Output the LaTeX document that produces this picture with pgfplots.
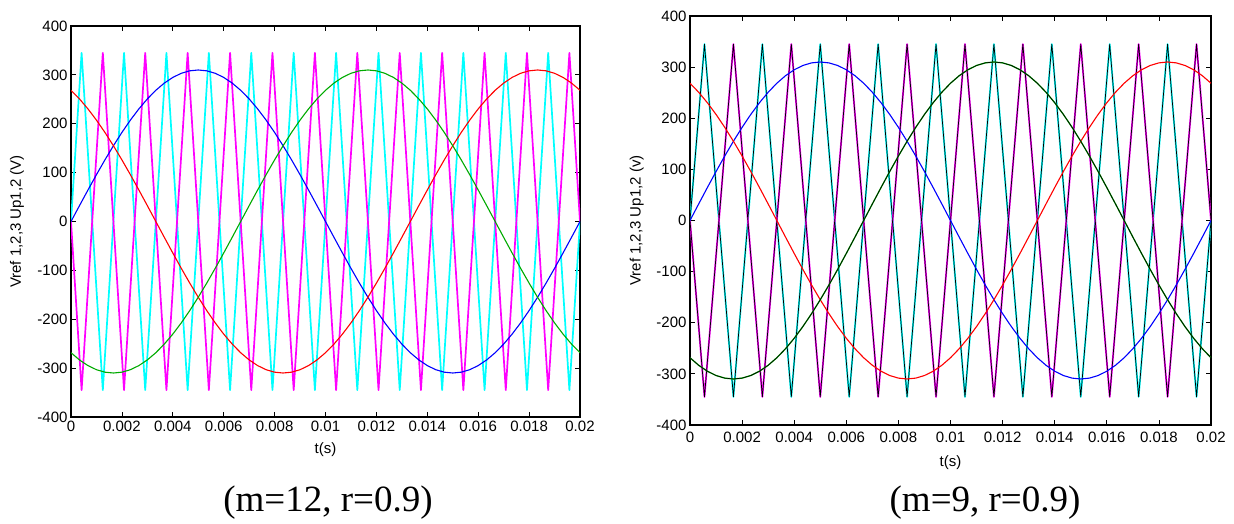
\documentclass[border=0pt]{standalone}
\usepackage{fontspec}
\setmainfont{Liberation Sans}
\newfontfamily\capfont{Liberation Serif}
\usepackage{pgfplots}
\usepackage{pgfplotstable}
\pgfplotsset{compat=1.18}
\definecolor{mcyan}{RGB}{0,255,255}
\definecolor{mmag}{RGB}{255,0,255}
\definecolor{mblue}{RGB}{0,0,255}
\definecolor{mred}{RGB}{255,0,0}
\definecolor{mgreen}{RGB}{0,170,0}

\pgfplotstableread{
t blue red green
0.0000000 0 268.47 -268.47
0.0003333 32.40 250.80 -283.20
0.0006667 64.45 230.37 -294.83
0.0010000 95.80 207.43 -303.23
0.0013333 126.09 182.21 -308.30
0.0016667 155.00 155.00 -310.00
0.0020000 182.21 126.09 -308.30
0.0023333 207.43 95.80 -303.23
0.0026667 230.37 64.45 -294.83
0.0030000 250.80 32.40 -283.20
0.0033333 268.47 0 -268.47
0.0036667 283.20 -32.40 -250.80
0.0040000 294.83 -64.45 -230.37
0.0043333 303.23 -95.80 -207.43
0.0046667 308.30 -126.09 -182.21
0.0050000 310.00 -155.00 -155.00
0.0053333 308.30 -182.21 -126.09
0.0056667 303.23 -207.43 -95.80
0.0060000 294.83 -230.37 -64.45
0.0063333 283.20 -250.80 -32.40
0.0066667 268.47 -268.47 0
0.0070000 250.80 -283.20 32.40
0.0073333 230.37 -294.83 64.45
0.0076667 207.43 -303.23 95.80
0.0080000 182.21 -308.30 126.09
0.0083333 155.00 -310.00 155.00
0.0086667 126.09 -308.30 182.21
0.0090000 95.80 -303.23 207.43
0.0093333 64.45 -294.83 230.37
0.0096667 32.40 -283.20 250.80
0.0100000 0 -268.47 268.47
0.0103333 -32.40 -250.80 283.20
0.0106667 -64.45 -230.37 294.83
0.0110000 -95.80 -207.43 303.23
0.0113333 -126.09 -182.21 308.30
0.0116667 -155.00 -155.00 310.00
0.0120000 -182.21 -126.09 308.30
0.0123333 -207.43 -95.80 303.23
0.0126667 -230.37 -64.45 294.83
0.0130000 -250.80 -32.40 283.20
0.0133333 -268.47 0 268.47
0.0136667 -283.20 32.40 250.80
0.0140000 -294.83 64.45 230.37
0.0143333 -303.23 95.80 207.43
0.0146667 -308.30 126.09 182.21
0.0150000 -310.00 155.00 155.00
0.0153333 -308.30 182.21 126.09
0.0156667 -303.23 207.43 95.80
0.0160000 -294.83 230.37 64.45
0.0163333 -283.20 250.80 32.40
0.0166667 -268.47 268.47 0
0.0170000 -250.80 283.20 -32.40
0.0173333 -230.37 294.83 -64.45
0.0176667 -207.43 303.23 -95.80
0.0180000 -182.21 308.30 -126.09
0.0183333 -155.00 310.00 -155.00
0.0186667 -126.09 308.30 -182.21
0.0190000 -95.80 303.23 -207.43
0.0193333 -64.45 294.83 -230.37
0.0196667 -32.40 283.20 -250.80
0.0200000 0 268.47 -268.47
}\sines

\pgfplotstableread{
t c m
0 0 0
0.00041667 345 -345
0.00125000 -345 345
0.00208333 345 -345
0.00291667 -345 345
0.00375000 345 -345
0.00458333 -345 345
0.00541667 345 -345
0.00625000 -345 345
0.00708333 345 -345
0.00791667 -345 345
0.00875000 345 -345
0.00958333 -345 345
0.01041667 345 -345
0.01125000 -345 345
0.01208333 345 -345
0.01291667 -345 345
0.01375000 345 -345
0.01458333 -345 345
0.01541667 345 -345
0.01625000 -345 345
0.01708333 345 -345
0.01791667 -345 345
0.01875000 345 -345
0.01958333 -345 345
0.02000000 0 0
}\carrL

\pgfplotstableread{
t c m
0 0 0
0.00055556 345 -345
0.00166667 -345 345
0.00277778 345 -345
0.00388889 -345 345
0.00500000 345 -345
0.00611111 -345 345
0.00722222 345 -345
0.00833333 -345 345
0.00944444 345 -345
0.01055556 -345 345
0.01166667 345 -345
0.01277778 -345 345
0.01388889 345 -345
0.01500000 -345 345
0.01611111 345 -345
0.01722222 -345 345
0.01833333 345 -345
0.01944444 -345 345
0.02000000 0 0
}\carrR

\pgfplotsset{
  matlabstyle/.style={
    scale only axis,
    anchor=south west,
    xmin=0, xmax=0.02, ymin=-400, ymax=400,
    scaled x ticks=false,
    scaled y ticks=false,
    xtick={0,0.002,0.004,0.006,0.008,0.01,0.012,0.014,0.016,0.018,0.02},
    xticklabels={0,0.002,0.004,0.006,0.008,0.01,0.012,0.014,0.016,0.018,0.02},
    ytick={-400,-300,-200,-100,0,100,200,300,400},
    yticklabels={-400,-300,-200,-100,0,100,200,300,400},
    tick align=inside,
    major tick length=5pt,
    tick style={black, line width=0.8pt},
    axis line style={black, line width=1.2pt},
    tick label style={font=\fontsize{15}{18}\selectfont},
    label style={font=\fontsize{15}{18}\selectfont},
    xlabel={t(s)},
    every axis plot/.append style={line join=round},
  }
}

\begin{document}
\begin{tikzpicture}
\path[use as bounding box] (0,0) rectangle (1234pt,524pt);

\begin{axis}[matlabstyle,
  at={(71pt,107pt)}, width=509pt, height=391pt,
  ylabel={Vref 1,2,3 Up1,2 (V)},
  xlabel style={at={(axis description cs:0.5,-0.084)}, anchor=center},
  ylabel style={at={(axis description cs:-0.106,0.5)}, anchor=center},
]
\addplot[mcyan, line width=1.7pt] table[x=t, y=c] {\carrL};
\addplot[mmag, line width=1.7pt] table[x=t, y=m] {\carrL};
\addplot[mblue, line width=1.1pt] table[x=t, y=blue] {\sines};
\addplot[mred, line width=1.1pt] table[x=t, y=red] {\sines};
\addplot[mgreen, line width=1.1pt] table[x=t, y=green] {\sines};
\end{axis}

\begin{axis}[matlabstyle,
  at={(690pt,99pt)}, width=521pt, height=409pt,
  ylabel={Vref 1,2,3 Up1,2 (v)},
  xticklabel style={yshift=-3pt},
  xlabel style={at={(axis description cs:0.5,-0.093)}, anchor=center},
  ylabel style={at={(axis description cs:-0.102,0.5)}, anchor=center},
]
\addplot[mcyan, line width=1.8pt] table[x=t, y=c] {\carrR};
\addplot[black, line width=0.7pt] table[x=t, y=c] {\carrR};
\addplot[mmag, line width=1.8pt] table[x=t, y=m] {\carrR};
\addplot[black, line width=0.7pt] table[x=t, y=m] {\carrR};
\addplot[mblue, line width=1.1pt] table[x=t, y=blue] {\sines};
\addplot[mred, line width=1.1pt] table[x=t, y=red] {\sines};
\addplot[mgreen, line width=1.3pt] table[x=t, y=green] {\sines};
\addplot[black, line width=0.6pt] table[x=t, y=green] {\sines};
\end{axis}

\node[font=\capfont\fontsize{37}{40}\selectfont] at (328pt,21pt) {(m=12, r=0.9)};
\node[font=\capfont\fontsize{37}{40}\selectfont] at (985pt,21pt) {(m=9, r=0.9)};
\end{tikzpicture}
\end{document}
